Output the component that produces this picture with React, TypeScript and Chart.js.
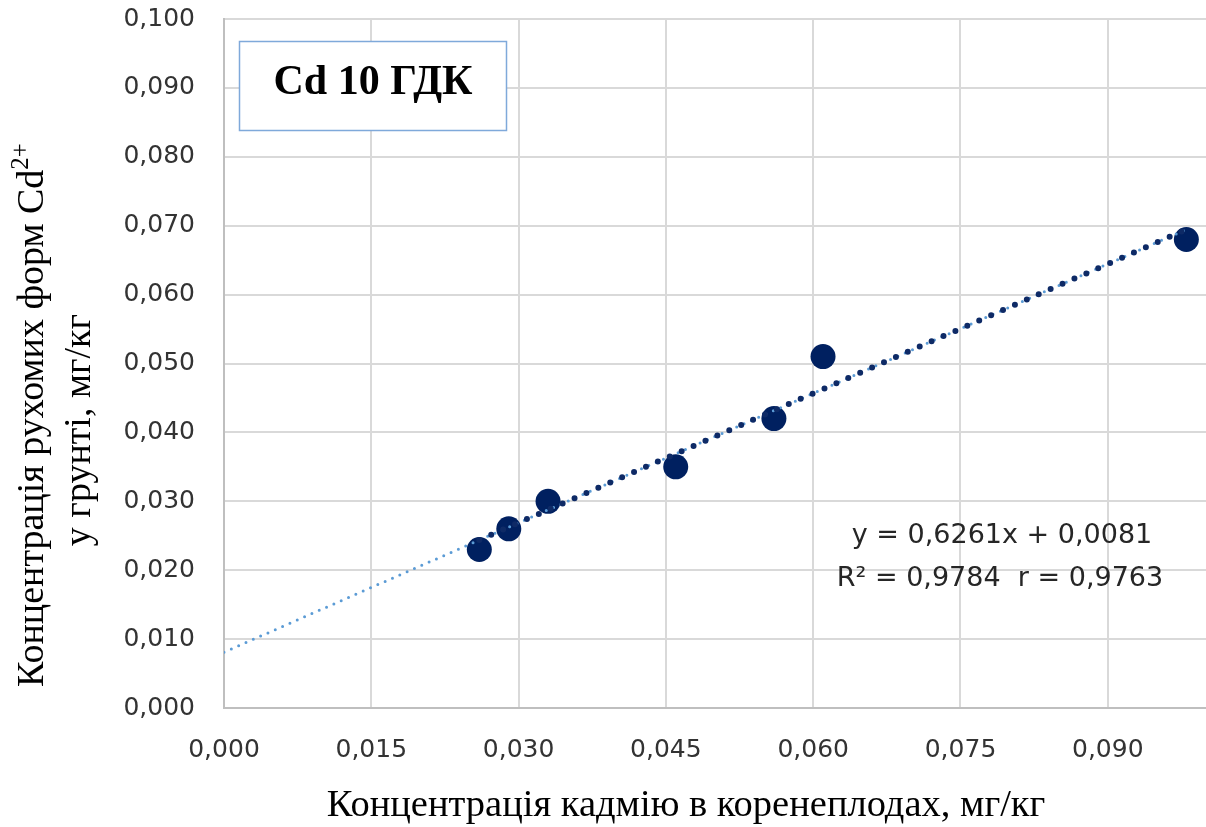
import React, { useEffect, useRef } from 'react';
import { Chart, registerables } from 'chart.js';

Chart.register(...registerables);

// ---- data ----
const rootConcentration = [0.026, 0.029, 0.033, 0.046, 0.056, 0.061, 0.098];
const soilConcentration = [0.023, 0.026, 0.030, 0.035, 0.042, 0.051, 0.068];
const xTickValues = [0, 0.015, 0.03, 0.045, 0.06, 0.075, 0.09];
const yTickValues = [0, 0.01, 0.02, 0.03, 0.04, 0.05, 0.06, 0.07, 0.08, 0.09, 0.1];
const trendSlope = 0.6261;
const trendIntercept = 0.0081;
const trendForecastStart = [0];

const chartTitle = 'Cd 10 ГДК';
const xAxisTitle = 'Концентрація кадмію в коренеплодах, мг/кг';
const yAxisTitleLine1 = 'Концентрація рухомих форм Cd';
const yAxisTitleSup = '2+';
const yAxisTitleLine2 = 'у грунті, мг/кг';
const equationLine1 = 'y = 0,6261x + 0,0081';
const equationLine2 = 'R² = 0,9784  r = 0,9763';

const fmt = (v: number) => Number(v).toFixed(3).replace('.', ',');
const trendAt = (x: number) => ({ x, y: trendSlope * x + trendIntercept });

const SERIF = '"Liberation Serif", "Times New Roman", serif';

const textPlugin = {
  id: 'textPlugin',
  afterDraw(chart: any) {
    const ctx = chart.ctx as CanvasRenderingContext2D;
    ctx.save();
    // title box
    ctx.fillStyle = '#ffffff';
    ctx.fillRect(239, 41, 268, 90);
    ctx.strokeStyle = '#7FA9DA';
    ctx.lineWidth = 1.5;
    ctx.strokeRect(239.5, 41.5, 267, 89);
    ctx.fillStyle = '#000000';
    ctx.font = 'bold 42px ' + SERIF;
    ctx.textAlign = 'center';
    ctx.textBaseline = 'alphabetic';
    ctx.fillText(chartTitle, 373, 94);

    // equation
    ctx.fillStyle = '#262626';
    ctx.font = '27px "DejaVu Sans", sans-serif';
    ctx.textAlign = 'center';
    ctx.fillText(equationLine1, 1002, 543);
    ctx.fillText(equationLine2, 1000, 586);

    // x axis title
    ctx.fillStyle = '#000000';
    ctx.font = '38.5px ' + SERIF;
    ctx.fillText(xAxisTitle, 686, 816);

    // y axis title
    ctx.save();
    ctx.rotate(-Math.PI / 2);
    ctx.textAlign = 'left';
    const mainFont = '38px ' + SERIF;
    const supFont = '25px ' + SERIF;
    ctx.font = mainFont;
    const w1 = ctx.measureText(yAxisTitleLine1).width;
    ctx.font = supFont;
    const w2 = ctx.measureText(yAxisTitleSup).width;
    const total = w1 + w2;
    const c1 = 415;
    const start1 = -c1 - total / 2;
    ctx.font = mainFont;
    ctx.fillText(yAxisTitleLine1, start1, 43);
    ctx.font = supFont;
    ctx.fillText(yAxisTitleSup, start1 + w1, 28);
    ctx.font = mainFont;
    ctx.textAlign = 'center';
    ctx.fillText(yAxisTitleLine2, -430, 90);
    ctx.restore();

    ctx.restore();
  },
};

export default function App() {
  const canvasRef = useRef<HTMLCanvasElement | null>(null);

  useEffect(() => {
    if (!canvasRef.current) return;
    const points = rootConcentration.map((x, i) => ({ x, y: soilConcentration[i] }));
    const xMin = Math.min(...rootConcentration);
    const xMax = Math.max(...rootConcentration);
    const forecastLine = [trendAt(trendForecastStart[0]), trendAt(xMax)];
    const fitLine = [trendAt(xMin), trendAt(xMax)];
    const tickFont = { family: '"DejaVu Sans", sans-serif', size: 25 };

    const chart = new Chart(canvasRef.current, {
      type: 'scatter',
      data: {
        datasets: [
          {
            data: points,
            pointRadius: 12.5,
            pointHoverRadius: 12.5,
            backgroundColor: '#002060',
            borderColor: '#002060',
            borderWidth: 0,
            order: 2,
          },
          {
            data: forecastLine,
            showLine: true,
            pointRadius: 0,
            borderColor: '#5B9BD5',
            borderWidth: 3,
            borderDash: [0, 8],
            borderCapStyle: 'round',
            order: 1,
          },
          {
            data: fitLine,
            showLine: true,
            pointRadius: 0,
            borderColor: '#0E2A66',
            borderWidth: 6,
            borderDash: [0, 13],
            borderCapStyle: 'round',
            order: 0,
          },
        ] as any,
      },
      plugins: [textPlugin],
      options: {
        responsive: false,
        animation: false,
        events: [],
        layout: { autoPadding: false, padding: { top: 19, right: 0, left: 0, bottom: 0 } },
        plugins: { legend: { display: false }, tooltip: { enabled: false }, title: { display: false } },
        scales: {
          x: {
            type: 'linear',
            min: 0,
            max: 0.1,
            afterBuildTicks: (s: any) => {
              s.ticks = xTickValues.map((v) => ({ value: v }));
            },
            afterFit: (s: any) => {
              s.height = 119;
              s.paddingLeft = 0;
              s.paddingRight = 0;
              s.paddingTop = 0;
              s.paddingBottom = 0;
            },
            ticks: {
              callback: (v: any) => fmt(v),
              font: tickFont,
              color: '#333333',
              padding: 27,
              maxRotation: 0,
              autoSkip: false,
            },
            grid: { color: '#D9D9D9', lineWidth: 2, drawTicks: false },
            border: { color: '#BFBFBF', width: 2 },
          },
          y: {
            type: 'linear',
            min: 0,
            max: 0.1,
            afterBuildTicks: (s: any) => {
              s.ticks = yTickValues.map((v) => ({ value: v }));
            },
            afterFit: (s: any) => {
              s.width = 224;
              s.paddingLeft = 0;
              s.paddingRight = 0;
              s.paddingTop = 0;
              s.paddingBottom = 0;
            },
            ticks: {
              callback: (v: any) => fmt(v),
              font: tickFont,
              color: '#333333',
              padding: 29,
              autoSkip: false,
            },
            grid: { color: '#D9D9D9', lineWidth: 2, drawTicks: false },
            border: { color: '#BFBFBF', width: 2 },
          },
        },
      } as any,
    });
    return () => chart.destroy();
  }, []);

  return (
    <div style={{ position: 'absolute', left: 0, top: 0, width: 1206, height: 827, background: '#ffffff' }}>
      <canvas ref={canvasRef} width={1206} height={827} />
    </div>
  );
}
